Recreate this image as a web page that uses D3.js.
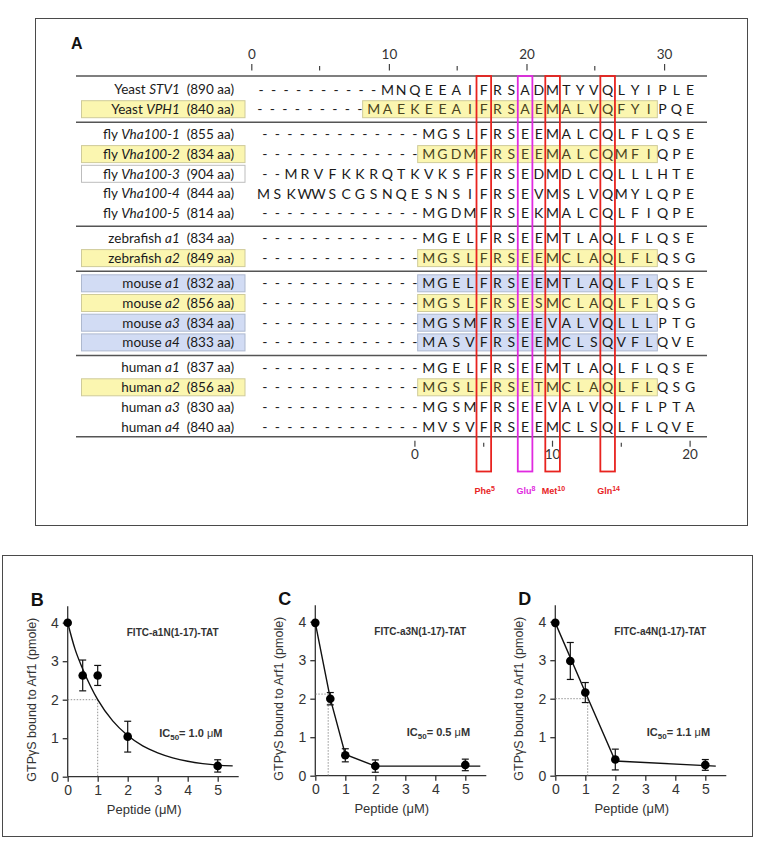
<!DOCTYPE html>
<html><head><meta charset="utf-8">
<script src="https://cdn.jsdelivr.net/npm/d3@7"></script>
<style>body{margin:0;background:#fff}svg{display:block}</style>
</head><body>
<svg id="chart" width="758" height="841"></svg>
<script>
// ---------------- DATA : panel A (alignment) ----------------
const speciesNames = ["Yeast","Yeast","fly","fly","fly","fly","fly","zebrafish","zebrafish","mouse","mouse","mouse","mouse","human","human","human","human"];
const geneNames = ["STV1","VPH1","Vha100-1","Vha100-2","Vha100-3","Vha100-4","Vha100-5","a1","a2","a1","a2","a3","a4","a1","a2","a3","a4"];
const proteinLengths = [890,840,855,834,904,844,814,834,849,832,856,834,833,837,856,830,840];
const rowGroups = [0,0,1,1,1,1,1,2,2,3,3,3,3,4,4,4,4];
const sequences = [
  "----------MNQEEAIFRSADMTYVQLYIPLE",
  "---------MAEKEEAIFRSAEMALVQFYIPQE",
  "-------------MGSLFRSEEMALCQLFLQSE",
  "-------------MGDMFRSEEMALCQMFIQPE",
  " --MRVFKKRQTKVKSFFRSEDMDLCQLLLHTE",
  " MSKWWSCGSNQESNSIFRSEVMSLVQMYLQPE",
  "-------------MGDMFRSEKMALCQLFIQPE",
  "-------------MGELFRSEEMTLAQLFLQSE",
  "-------------MGSLFRSEEMCLAQLFLQSG",
  "-------------MGELFRSEEMTLAQLFLQSE",
  "-------------MGSLFRSESMCLAQLFLQSG",
  "-------------MGSMFRSEEVALVQLLLPTG",
  "-------------MASVFRSEEMCLSQVFLQVE",
  "-------------MGELFRSEEMTLAQLFLQSE",
  "-------------MGSLFRSETMCLAQLFLQSG",
  "-------------MGSMFRSEEVALVQLFLPTA",
  "-------------MVSVFRSEEMCLSQLFLQVE"
];
const highlightKind = ["","yellow","","yellow","plain","","","","yellow","blue","yellow","blue","blue","","yellow","",""];
const highlightStart = [null,9,null,13,null,null,null,null,13,13,13,13,13,null,13,null,null];
const highlightEnd   = [null,29,null,29,null,null,null,null,29,29,29,29,29,null,29,null,null];
const topAxisMajor = [0,10,20,30];
const topAxisMinor = [5,15,25];
const bottomAxisMajor = [0,10,20];
const bottomAxisMinor = [5,15];
const boxedResidues = ["Phe","Glu","Met","Gln"];
const boxedNumbers = [5,8,10,14];

// ---------------- DATA : panels B-D ----------------
const panelLetters = ["B","C","D"];
const peptideNames = ["FITC-a1N(1-17)-TAT","FITC-a3N(1-17)-TAT","FITC-a4N(1-17)-TAT"];
const ic50Values = ["1.0","0.5","1.1"];
const peptideConc = [0,0.5,1,2,5];
const gtpA1 = [4.0,2.63,2.63,1.04,0.28];
const errA1 = [0,0.40,0.26,0.40,0.16];
const gtpA3 = [3.97,2.0,0.53,0.25,0.28];
const errA3 = [0,0.16,0.17,0.16,0.15];
const gtpA4 = [3.97,2.98,2.16,0.42,0.28];
const errA4 = [0,0.48,0.26,0.27,0.14];
const fitA1X = [0,0.25,0.5,0.75,1,1.5,2,2.5,3,3.5,4,4.5,5,5.5];
const fitA1Y = [4.0,3.3,2.8,2.37,2.0,1.45,1.07,0.8,0.62,0.49,0.4,0.34,0.3,0.28];
const fitA3X = [0,0.5,1,2,5.5];
const fitA3Y = [3.97,2.0,0.55,0.25,0.25];
const fitA4X = [0,1,2,5.35];
const fitA4Y = [3.97,2.17,0.38,0.25];
const guideX = [1.0,0.43,1.08];
const guideY = [2.0,2.12,2.0];
const xTicks = [0,1,2,3,4,5];
const yTicks = [0,1,2,3,4];

// ---------------- DRAW ----------------
const svg = d3.select("#chart");
svg.append("rect").attr("width",758).attr("height",841).attr("fill","#fff");

const seqFont = "Lato, 'Open Sans', sans-serif";
const RED = "#e8231f", MAG = "#e02ae0";
const fills = {yellow:"#fbf6b0", blue:"#d2dcf4", plain:"#ffffff"};
const strokes = {yellow:"#cfcb9a", blue:"#aeb9cf", plain:"#bdbdbd"};

// frame A
svg.append("rect").attr("x",35.5).attr("y",18.5).attr("width",712).attr("height",507)
  .attr("fill","none").attr("stroke","#4a4a4a").attr("stroke-width",1);
svg.append("text").attr("x",71).attr("y",49).text("A")
  .attr("font-family","Arial, 'Liberation Sans', sans-serif").attr("font-weight","bold").attr("font-size",16).attr("fill","#111");

const xSeq = d3.scaleLinear().domain([0,32]).range([249.8,690.1]);
const xRes = d3.scaleLinear().domain([-12,20]).range([249.8,690.1]);
const rowY = (i) => 89.5 + 19.7*i + 5.5*rowGroups[i];

// top axis
const gTop = svg.append("g");
gTop.selectAll("text").data(topAxisMajor).join("text")
  .attr("x",d=>xSeq(d)+2).attr("y",59).attr("text-anchor","middle")
  .attr("font-family",seqFont).attr("font-size",13.5).attr("fill","#333").text(d=>d);
gTop.selectAll("line.mj").data(topAxisMajor).join("line").attr("class","mj")
  .attr("x1",d=>xSeq(d)+2).attr("x2",d=>xSeq(d)+2).attr("y1",64).attr("y2",70.5).attr("stroke","#444").attr("stroke-width",1.2);
gTop.selectAll("line.mn").data(topAxisMinor).join("line").attr("class","mn")
  .attr("x1",d=>xSeq(d)+1).attr("x2",d=>xSeq(d)+1).attr("y1",66).attr("y2",70.5).attr("stroke","#444").attr("stroke-width",1.2);

// horizontal rules
const nRows = sequences.length;
const ruleYs = [76];
for (let i=0;i<nRows-1;i++) if (rowGroups[i]!==rowGroups[i+1]) ruleYs.push((rowY(i)+rowY(i+1))/2 + 0.5);
ruleYs.push(rowY(nRows-1)+10);
svg.selectAll("line.rule").data(ruleYs).join("line").attr("class","rule")
  .attr("x1",76).attr("x2",707).attr("y1",d=>d).attr("y2",d=>d)
  .attr("stroke","#555").attr("stroke-width",1.6);

// label boxes
const rowsData = sequences.map((s,i)=>({i, s, kind:highlightKind[i], y:rowY(i)}));
svg.selectAll("rect.lab").data(rowsData.filter(d=>d.kind)).join("rect").attr("class","lab")
  .attr("x",81.5).attr("y",d=>d.y-8.5).attr("width",163.5).attr("height",17)
  .attr("fill",d=>fills[d.kind]).attr("stroke",d=>strokes[d.kind]).attr("stroke-width",1);
// sequence highlight boxes
svg.selectAll("rect.seqh").data(rowsData.filter(d=>highlightStart[d.i]!==null)).join("rect").attr("class","seqh")
  .attr("x",d=>xSeq(highlightStart[d.i])-11).attr("y",d=>d.y-8.5)
  .attr("width",d=>xSeq(highlightEnd[d.i])-xSeq(highlightStart[d.i])+19.5).attr("height",17)
  .attr("fill",d=>fills[d.kind]).attr("stroke",d=>strokes[d.kind]).attr("stroke-width",1);

// labels
const labels = svg.selectAll("text.lbl").data(rowsData).join("text").attr("class","lbl")
  .attr("x",234).attr("y",d=>d.y).attr("dy","0.36em").attr("text-anchor","end")
  .attr("font-family",seqFont).attr("font-size",13.5).attr("fill","#1a1a1a");
labels.append("tspan").text(d=>speciesNames[d.i]+" ");
labels.append("tspan").attr("font-style","italic").text(d=>geneNames[d.i]);
labels.append("tspan").text(d=>"\u00a0 ("+proteinLengths[d.i]+" aa)");

// sequence characters
const chars = [];
rowsData.forEach(r=>{
  let lastDash = -1;
  for (let c=0;c<r.s.length;c++){ if (r.s[c]==='-') lastDash=c; else if (r.s[c]!==' ') break; }
  for (let c=0;c<r.s.length;c++){
    const ch = r.s[c];
    if (ch===' ') continue;
    let x = xSeq(c);
    if (ch==='-' && c<=lastDash) x = xSeq(lastDash) - (lastDash-c)*12.5;
    chars.push({ch, x, y:r.y, tinted: highlightStart[r.i]!==null && c>=highlightStart[r.i] && c<=highlightEnd[r.i] && r.kind==="yellow"});
  }
});
svg.selectAll("text.aa").data(chars).join("text").attr("class","aa")
  .attr("x",d=>d.x).attr("y",d=>d.y).attr("dy","0.36em").attr("text-anchor","middle")
  .attr("font-family",seqFont).attr("font-size",14).attr("fill",d=>d.tinted?"#4a4420":"#1a1a1a")
  .text(d=>d.ch);

// bottom axis
const gBot = svg.append("g");
const yb = rowY(nRows-1)+10;
gBot.selectAll("text").data(bottomAxisMajor).join("text")
  .attr("x",d=>xRes(d)).attr("y",459).attr("text-anchor","middle")
  .attr("font-family",seqFont).attr("font-size",13.5).attr("fill","#333").text(d=>d);
gBot.selectAll("line.mj").data(bottomAxisMajor).join("line").attr("class","mj")
  .attr("x1",d=>xRes(d)).attr("x2",d=>xRes(d)).attr("y1",yb+4).attr("y2",yb+10).attr("stroke","#444").attr("stroke-width",1.2);
gBot.selectAll("line.mn").data(bottomAxisMinor).join("line").attr("class","mn")
  .attr("x1",d=>xRes(d)).attr("x2",d=>xRes(d)).attr("y1",yb+6).attr("y2",yb+10).attr("stroke","#444").attr("stroke-width",1.2);

// residue boxes
const boxes = boxedResidues.map((n,k)=>({name:n, num:boxedNumbers[k], color: n==="Glu"?MAG:RED}));
svg.selectAll("rect.res").data(boxes).join("rect").attr("class","res")
  .attr("x",d=>xRes(d.num)-7.2).attr("y",76).attr("width",14.6).attr("height",395.5)
  .attr("fill","none").attr("stroke",d=>d.color).attr("stroke-width",1.8);
const resLab = svg.selectAll("text.resl").data(boxes).join("text").attr("class","resl")
  .attr("x",d=>xRes(d.num)+1).attr("y",494).attr("text-anchor","middle")
  .attr("font-family","Arial, 'Liberation Sans', sans-serif").attr("font-weight","bold").attr("font-size",9)
  .attr("fill",d=>d.color);
resLab.append("tspan").text(d=>d.name);
resLab.append("tspan").attr("dy",-3.5).attr("font-size",7).text(d=>d.num);

// ---------------- panels B-D ----------------
svg.append("rect").attr("x",2.5).attr("y",555.5).attr("width",750).attr("height",281)
  .attr("fill","none").attr("stroke","#4a4a4a").attr("stroke-width",1);

const ARIAL = "Arial, 'Liberation Sans', sans-serif";
const panels = [
  {x0:67.7, y0:776.7, mean:gtpA1, err:errA1, fx:fitA1X, fy:fitA1Y, curve:d3.curveMonotoneX},
  {x0:315.3, y0:775.7, mean:gtpA3, err:errA3, fx:fitA3X, fy:fitA3Y, curve:d3.curveLinear},
  {x0:555.3, y0:775.7, mean:gtpA4, err:errA4, fx:fitA4X, fy:fitA4Y, curve:d3.curveLinear}
];
panels.forEach((p,k)=>{
  const g = svg.append("g");
  const x = d3.scaleLinear().domain([0,5]).range([p.x0, p.x0+150]);
  const y = d3.scaleLinear().domain([0,4]).range([p.y0, p.y0-154]);
  const fmt = d3.format("d");
  const xa = g.append("g").attr("transform",`translate(0,${p.y0})`)
    .call(d3.axisBottom(x).tickValues(xTicks).tickFormat(fmt).tickSize(5).tickPadding(3).tickSizeOuter(0));
  xa.select(".domain").attr("d",`M${x(0)},0H${x(5.7)}`);
  const ya = g.append("g").attr("transform",`translate(${p.x0},0)`)
    .call(d3.axisLeft(y).tickValues(yTicks).tickFormat(fmt).tickSize(5).tickPadding(4).tickSizeOuter(0));
  ya.select(".domain").attr("d",`M0,${y(0)}V${y(4.43)}`);
  [xa,ya].forEach(a=>{
    a.selectAll("path,line").attr("stroke","#333").attr("stroke-width",1.3);
    a.selectAll("text").attr("font-family",ARIAL).attr("font-size",14).attr("fill","#333");
  });
  // guides
  g.append("path").attr("d",`M${x(0)},${y(guideY[k])}H${x(guideX[k])}V${y(0)}`)
    .attr("fill","none").attr("stroke","#777").attr("stroke-width",0.8).attr("stroke-dasharray","1.5,1.5");
  // fit line
  const fit = p.fx.map((v,j)=>[v,p.fy[j]]);
  g.append("path").datum(fit).attr("d",d3.line().x(d=>x(d[0])).y(d=>y(d[1])).curve(p.curve))
    .attr("fill","none").attr("stroke","#111").attr("stroke-width",1.4);
  // error bars
  const pts = peptideConc.map((c,j)=>({c, m:p.mean[j], e:p.err[j]}));
  const eb = g.selectAll("g.eb").data(pts.filter(d=>d.e>0)).join("g").attr("class","eb");
  eb.append("line").attr("x1",d=>x(d.c)).attr("x2",d=>x(d.c)).attr("y1",d=>y(d.m-d.e)).attr("y2",d=>y(d.m+d.e));
  eb.append("line").attr("x1",d=>x(d.c)-3.5).attr("x2",d=>x(d.c)+3.5).attr("y1",d=>y(d.m-d.e)).attr("y2",d=>y(d.m-d.e));
  eb.append("line").attr("x1",d=>x(d.c)-3.5).attr("x2",d=>x(d.c)+3.5).attr("y1",d=>y(d.m+d.e)).attr("y2",d=>y(d.m+d.e));
  eb.selectAll("line").attr("stroke","#111").attr("stroke-width",1.2);
  g.selectAll("circle").data(pts).join("circle").attr("cx",d=>x(d.c)).attr("cy",d=>y(d.m)).attr("r",4.3).attr("fill","#000");
  // titles
  g.append("text").attr("x",x(2.55)).attr("y",p.y0+37).attr("text-anchor","middle")
    .attr("font-family",ARIAL).attr("font-size",13).attr("fill","#333").text("Peptide (\u03bcM)");
  g.append("text").attr("transform",`translate(${p.x0-32},${y(2)}) rotate(-90)`).attr("text-anchor","middle")
    .attr("font-family",ARIAL).attr("font-size",12.5).attr("fill","#333").text("GTP\u03b3S bound to Arf1 (pmole)");
  g.append("text").attr("x",p.x0-37).attr("y",y(4.5)+3).attr("font-family",ARIAL).attr("font-weight","bold")
    .attr("font-size",18).attr("fill","#111").text(panelLetters[k]);
  g.append("text").attr("x",x(3.5)).attr("y",y(3.65)).attr("text-anchor","middle").attr("font-family",ARIAL)
    .attr("font-weight","bold").attr("font-size",10).attr("fill","#333").text(peptideNames[k]);
  const ic = g.append("text").attr("x",x(3.05)).attr("y",y(1.03)).attr("font-family",ARIAL)
    .attr("font-weight","bold").attr("font-size",11).attr("fill","#333");
  ic.append("tspan").text("IC");
  ic.append("tspan").attr("dy",3).attr("font-size",8).text("50");
  ic.append("tspan").attr("dy",-3).text("= "+ic50Values[k]+" ");
  ic.append("tspan").attr("font-weight","normal").text("\u03bc");
  ic.append("tspan").text("M");
});
</script>
</body></html>
